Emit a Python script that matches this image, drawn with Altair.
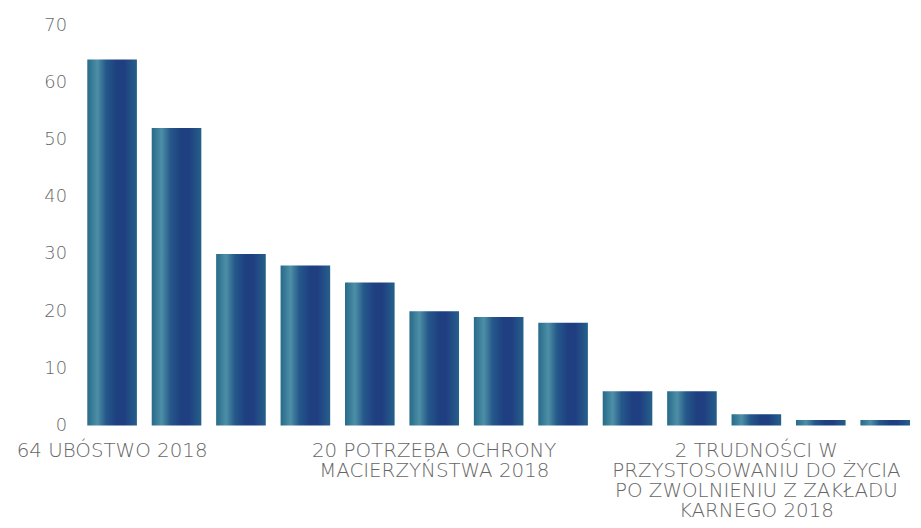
import json
import altair as alt
import pandas as pd

# Data
values = [64, 52, 30, 28, 25, 20, 19, 18, 6, 6, 2, 1, 1]
labels = [
    ["64 UBÓSTWO 2018"], [""], [""], [""], [""],
    ["20 POTRZEBA OCHRONY", "MACIERZYŃSTWA 2018"],
    [""], [""], [""], [""],
    ["2 TRUDNOŚCI W", "PRZYSTOSOWANIU DO ŻYCIA", "PO ZWOLNIENIU Z ZAKŁADU", "KARNEGO 2018"],
    [""], [""],
]
y_ticks = [0, 10, 20, 30, 40, 50, 60, 70]

df = pd.DataFrame({"idx": list(range(len(values))), "value": values})

label_expr = json.dumps(labels, ensure_ascii=False) + "[datum.value]"

FONT = "DejaVu Sans"
TEXT_COLOR = "#666666"

gradient = alt.Gradient(
    gradient="linear",
    x1=0, x2=1, y1=0, y2=0,
    stops=[
        alt.GradientStop(color="#276a8a", offset=0.0),
        alt.GradientStop(color="#4d8fa6", offset=0.2),
        alt.GradientStop(color="#25588a", offset=0.38),
        alt.GradientStop(color="#1e3f80", offset=0.6),
        alt.GradientStop(color="#203f82", offset=0.75),
        alt.GradientStop(color="#25608a", offset=1.0),
    ],
)

chart = (
    alt.Chart(df)
    .mark_bar(color=gradient)
    .encode(
        x=alt.X(
            "idx:O",
            sort=None,
            scale=alt.Scale(paddingInner=0.23, paddingOuter=0),
            axis=alt.Axis(
                title=None,
                labelExpr=label_expr,
                labelAngle=0,
                labelOverlap=False,
                labelLimit=0,
                labelFont=FONT,
                labelFontSize=20,
                labelFontWeight=200,
                labelColor=TEXT_COLOR,
                labelLineHeight=20.3,
                labelPadding=15,
                labelBaseline="top",
                domain=False,
                ticks=False,
            ),
        ),
        y=alt.Y(
            "value:Q",
            scale=alt.Scale(domain=[0, 70], nice=False),
            axis=alt.Axis(
                title=None,
                values=y_ticks,
                grid=False,
                domain=False,
                ticks=False,
                labelFont=FONT,
                labelFontSize=18,
                labelFontWeight=200,
                labelColor=TEXT_COLOR,
                labelPadding=21,
            ),
        ),
        tooltip=["idx", "value"],
    )
    .properties(
        width=830,
        height=404,
        background="white",
        autosize=alt.AutoSizeParams(type="none"),
        padding={"left": 80, "top": 15, "right": 3, "bottom": 100},
    )
    .configure_view(strokeWidth=0, stroke="transparent")
)

chart.save("out.html", embed_options={"renderer": "svg", "actions": False})
